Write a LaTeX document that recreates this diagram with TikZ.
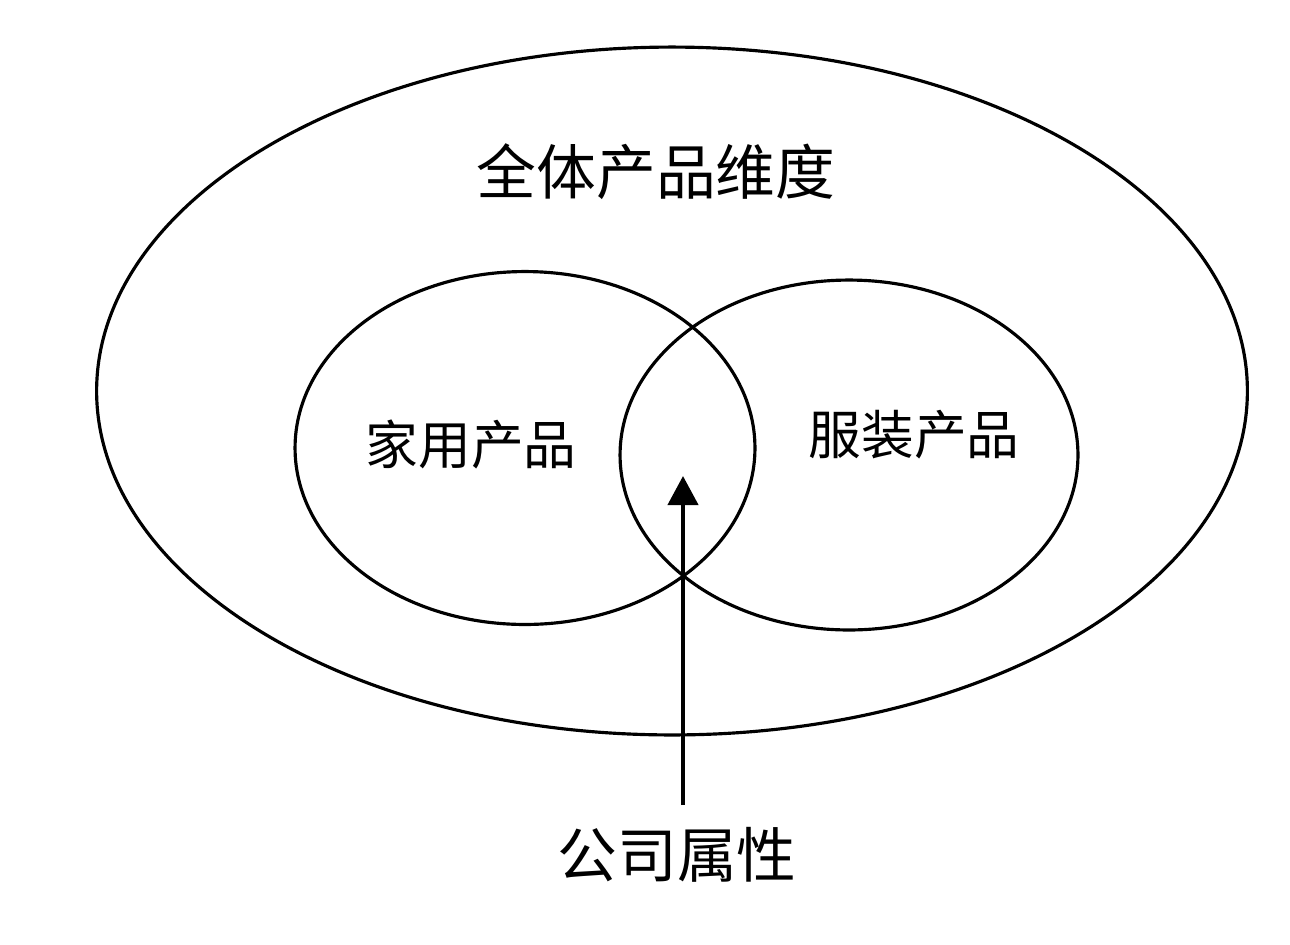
\documentclass[tikz,border=0pt]{standalone}
\usepackage{fontspec}
\usetikzlibrary{shapes.geometric, arrows.meta}
\newfontfamily\cjk{Noto Sans CJK SC}
\tikzset{
  setring/.style  = {ellipse, draw=black, line width=1.8pt, inner sep=0pt},
  biglabel/.style = {font=\cjk\fontsize{34}{41}\selectfont, inner sep=0pt},
  midlabel/.style = {font=\cjk\fontsize{30}{36}\selectfont, inner sep=0pt},
  pointer/.style  = {-{Triangle[width=0.6cm, length=0.58cm]}, line width=2.4pt},
}
\begin{document}
\begin{tikzpicture}[x=0.02cm, y=-0.02cm]
\useasboundingbox (0,0) rectangle (1290,944);

% ---- Sets ----
\node[setring, minimum width=23.02cm, minimum height=13.76cm] (all) at (672,391) {};
\node[setring, minimum width=9.2cm, minimum height=7.06cm] (home) at (525,448) {};
\node[setring, minimum width=9.16cm, minimum height=7.0cm] (cloth) at (849,455) {};

% ---- Labels ----
\node[biglabel] (alllbl) at (656,172) {全体产品维度};
\node[midlabel] (homelbl) at (471,444) {家用产品};
\node[midlabel] (clothlbl) at (914,435) {服装产品};
\node[biglabel] (attr) at (677,855) {公司属性};

% ---- Pointer into the overlap ----
\coordinate (tail) at (683,805);
\coordinate (tip) at (683,476);
\draw[pointer] (tail) -- (tip);

\end{tikzpicture}
\end{document}
